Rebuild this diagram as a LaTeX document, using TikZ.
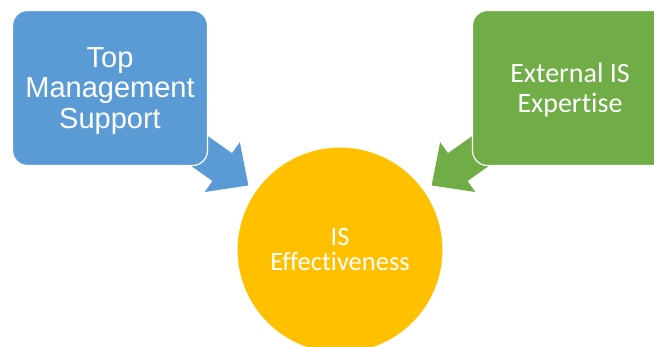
\documentclass[tikz,border=0pt]{standalone}
\usepackage{fontspec}
\setmainfont{Carlito}[Ligatures=NoCommon]
\newfontfamily\arialfont{Liberation Sans}
\usetikzlibrary{positioning, arrows.meta, backgrounds}

\definecolor{tmsblue}{HTML}{5B9BD5}
\definecolor{extgreen}{HTML}{70AD47}
\definecolor{effgold}{HTML}{FFC000}

\tikzset{
  factorbox/.style={draw=white, line width=1.2pt, rounded corners=15pt, minimum width=195pt, minimum height=155pt, text=white, align=center, inner sep=0pt, text depth=0pt},
  outcome/.style={draw=white, line width=1pt, circle, minimum size=206pt, text=white, align=center, inner sep=0pt},
  blockarrow/.style={line width=34pt, -{Triangle[length=32pt, width=59pt]}, shorten >=112pt}
}

\begin{document}
\begin{tikzpicture}[x=1pt, y=-1pt]

					\useasboundingbox (0,0) rectangle (654,347);

					\node[factorbox, fill=tmsblue, font=\arialfont\fontsize{29}{30.5}\selectfont] (tms) at (110,88) {Top\\Management\\Support};
					\node[factorbox, fill=extgreen, font=\fontsize{28}{29.5}\selectfont] (ext) at (570,88) {External IS\\Expertise};
					\node[outcome, fill=effgold, font=\fontsize{26.5}{25}\selectfont] (eff) at (340,250) {IS\\Effectiveness};

					\begin{scope}[on background layer]
					\draw[blockarrow, tmsblue] (tms.center) -- (eff.center);
					\draw[blockarrow, extgreen] (ext.center) -- (eff.center);
					\end{scope}

				\end{tikzpicture}
\end{document}
